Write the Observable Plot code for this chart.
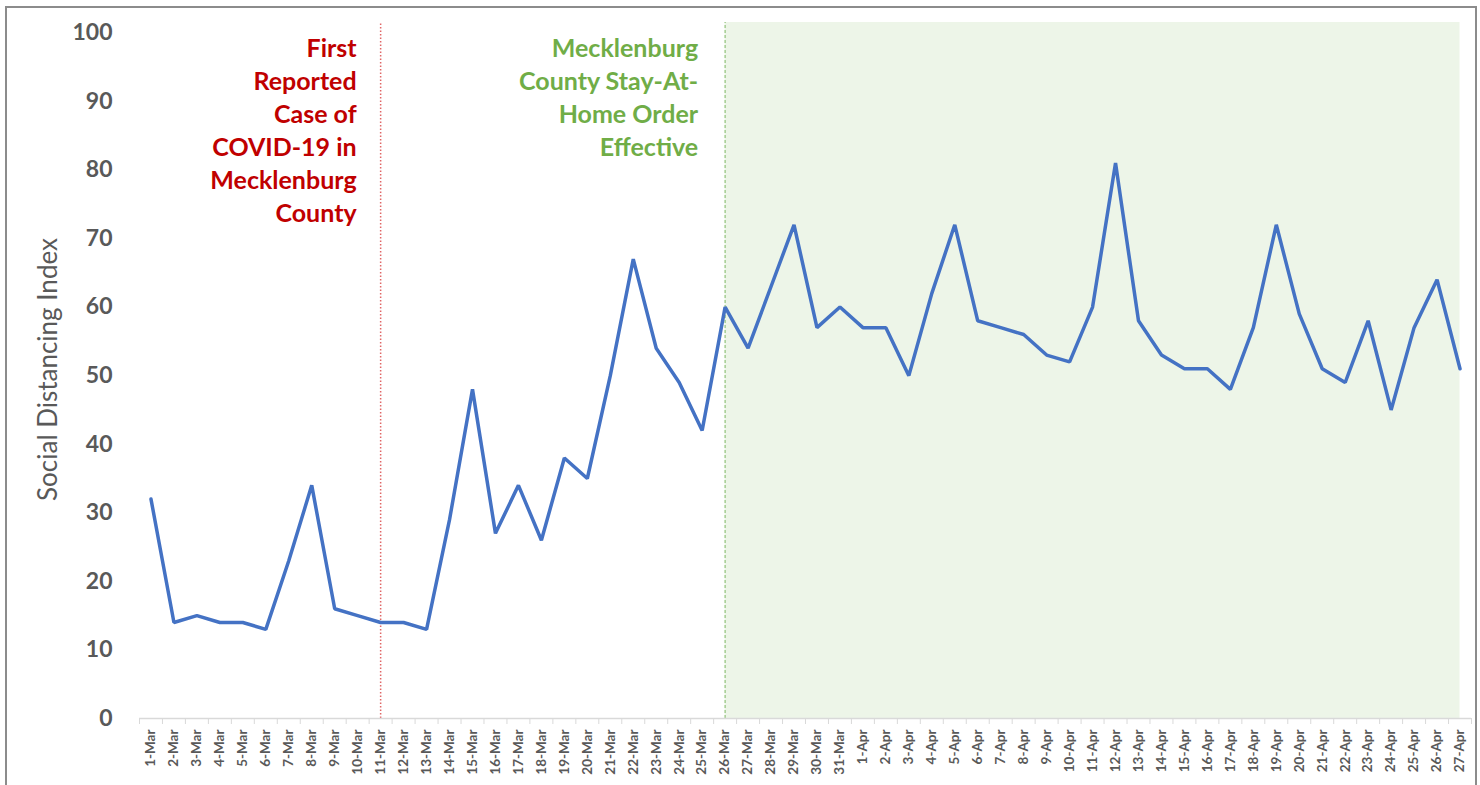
<!DOCTYPE html>
<html><head><meta charset="utf-8">
<script src="https://cdn.jsdelivr.net/npm/d3@7"></script>
<script src="https://cdn.jsdelivr.net/npm/@observablehq/plot@0.6"></script>
<style>
body{margin:0;background:#fff;}
#wrap{position:relative;width:1480px;height:785px;overflow:hidden;}
#border{position:absolute;left:5px;top:6px;width:1472px;height:800px;border:2px solid #8c8c8c;box-sizing:border-box;pointer-events:none;}
</style></head><body><div id="wrap"><div id="chart"></div><div id="border"></div></div>
<script>
const dates = ["1-Mar","2-Mar","3-Mar","4-Mar","5-Mar","6-Mar","7-Mar","8-Mar","9-Mar","10-Mar","11-Mar","12-Mar","13-Mar","14-Mar","15-Mar","16-Mar","17-Mar","18-Mar","19-Mar","20-Mar","21-Mar","22-Mar","23-Mar","24-Mar","25-Mar","26-Mar","27-Mar","28-Mar","29-Mar","30-Mar","31-Mar","1-Apr","2-Apr","3-Apr","4-Apr","5-Apr","6-Apr","7-Apr","8-Apr","9-Apr","10-Apr","11-Apr","12-Apr","13-Apr","14-Apr","15-Apr","16-Apr","17-Apr","18-Apr","19-Apr","20-Apr","21-Apr","22-Apr","23-Apr","24-Apr","25-Apr","26-Apr","27-Apr"];
const values = [32,14,15,14,14,13,23,34,16,15,14,14,13,29,48,27,34,26,38,35,50,67,54,49,42,60,54,63,72,57,60,57,57,50,62,72,58,57,56,53,52,60,81,58,53,51,51,48,57,72,59,51,49,58,45,57,64,51];
const yTicks = [0,10,20,30,40,50,60,70,80,90,100];
const yMax = 101.5;
const yLabel = "Social Distancing Index";
const firstCase = "11-Mar";
const stayHome = "26-Mar";
const firstCaseLabel = "First\nReported\nCase of\nCOVID-19 in\nMecklenburg\nCounty";
const stayHomeLabel = "Mecklenburg\nCounty Stay-At-\nHome Order\nEffective";

const W = 1480, H = 785, mL = 139, mR = 9, mT = 22, mB = 67;
const step = (W - mL - mR) / dates.length;
const data = dates.map((d, i) => ({date: d, value: values[i]}));
const shadeDates = dates.slice(dates.indexOf(stayHome));
const font = "Lato, 'Open Sans', sans-serif";

const chart = Plot.plot({
  width: W, height: H,
  marginLeft: mL, marginRight: mR, marginTop: mT, marginBottom: mB,
  style: {fontFamily: font, background: "#fff"},
  x: {type: "point", domain: dates, padding: 0.5},
  y: {domain: [0, yMax]},
  marks: [
    Plot.areaY(shadeDates, {x: d => d, y1: () => 0, y2: () => yMax, fill: "#edf5e8"}),
    Plot.ruleX([firstCase], {y1: 0, y2: yMax, stroke: "#e06666", strokeWidth: 1.5, strokeDasharray: "1.5,2"}),
    Plot.ruleX([stayHome], {y1: 0, y2: yMax, stroke: "#93c47d", strokeWidth: 1.2, strokeDasharray: "3,2"}),
    Plot.ruleY([0], {stroke: "#d9d9d9", strokeWidth: 1.5}),
    Plot.axisX({ticks: dates, tickSize: 6, text: null, dx: -step/2, stroke: "#d9d9d9", label: null}),
    Plot.axisX({ticks: [dates[dates.length-1]], tickSize: 6, text: null, dx: step/2, stroke: "#d9d9d9", label: null}),
    Plot.axisX({ticks: dates, tickSize: 0, tickPadding: 11, tickRotate: -90, fontSize: 13.5, fontWeight: "bold", fill: "#595959", label: null}),
    Plot.axisY({ticks: yTicks, tickSize: 0, tickPadding: 27, fontSize: 23, fontWeight: "bold", fill: "#595959", label: null}),
    Plot.text([yLabel], {frameAnchor: "left", textAnchor: "middle", rotate: -90, dx: -91, dy: -1, fontSize: 26, fill: "#595959"}),
    Plot.lineY(data, {x: "date", y: "value", stroke: "#4472c4", strokeWidth: 3.5, strokeLinejoin: "miter"}),
    Plot.text([firstCaseLabel], {x: () => firstCase, frameAnchor: "top", textAnchor: "end", lineAnchor: "top", lineHeight: 1.32, dx: -24, dy: 11, fontSize: 25, fontWeight: "bold", fill: "#c00000"}),
    Plot.text([stayHomeLabel], {x: () => stayHome, frameAnchor: "top", textAnchor: "end", lineAnchor: "top", lineHeight: 1.32, dx: -27, dy: 11, fontSize: 25, fontWeight: "bold", fill: "#70ad47"})
  ]
});
document.getElementById("chart").appendChild(chart);
</script>
</body></html>
